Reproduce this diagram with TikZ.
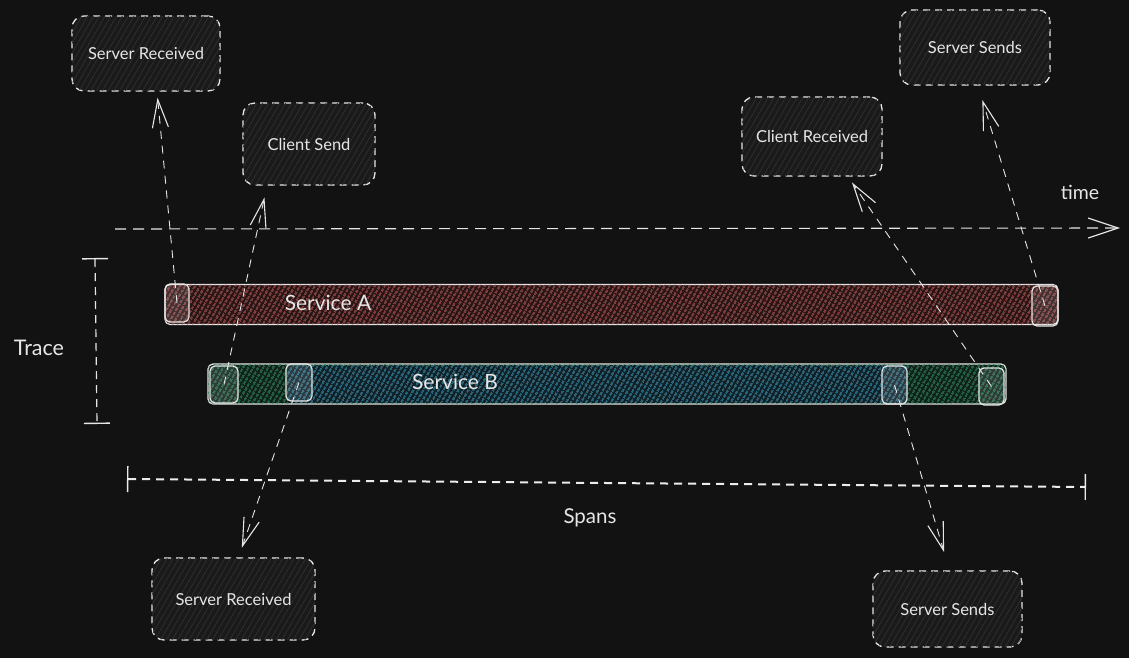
\documentclass[tikz,border=0pt]{standalone}
\usepackage{fontspec}
\setmainfont{Lato}
\usetikzlibrary{arrows.meta,patterns.meta,calc}
\definecolor{bg}{HTML}{121212}
\definecolor{ink}{HTML}{E6E6E6}
\definecolor{boxfill}{HTML}{1A1A1A}
\definecolor{boxhatch}{HTML}{2E2E2E}
\definecolor{redfill}{HTML}{2A1414}
\definecolor{redhatch}{HTML}{B34A4A}
\definecolor{bluefill}{HTML}{0E2128}
\definecolor{bluehatch}{HTML}{2A8CAE}
\definecolor{greenfill}{HTML}{0D2219}
\definecolor{greenhatch}{HTML}{1F8454}
\tikzset{
  lblbox/.style={draw=ink, line width=1.3pt, dash pattern=on 7pt off 5pt, rounded corners=12pt,
    fill=boxfill, postaction={pattern={Lines[angle=60,distance=5pt,line width=0.8pt]}, pattern color=boxhatch},
    text=ink, font=\fontsize{16.5}{18}\selectfont, inner sep=0pt},
  barbox/.style={draw=ink, line width=1.2pt, rounded corners=5pt, inner sep=0pt},
  sqbox/.style={draw=ink, line width=1.2pt, rounded corners=5pt, inner sep=0pt,
    fill=white, fill opacity=0.12, draw opacity=1},
  barlbl/.style={text=ink, font=\fontsize{21}{23}\selectfont, inner sep=0pt},
  conn/.style={draw=ink, line width=0.9pt, dash pattern=on 8pt off 7pt,
    -{Straight Barb[length=28pt,width=16pt,line width=1.1pt]}},
  endbar/.style={draw=ink, line width=1.2pt, dash pattern=on 8pt off 6pt,
    {Bar[width=26pt,line width=1.4pt]}-{Bar[width=26pt,line width=1.4pt]}}
}
\begin{document}
\begin{tikzpicture}[x=1pt,y=-1pt]
\fill[bg] (0,0) rectangle (1129,658);
\useasboundingbox (0,0) rectangle (1129,658);

% label boxes
\node[lblbox, minimum width=148pt, minimum height=75pt] (srvTop) at (146,53.5) {Server Received};
\node[lblbox, minimum width=132pt, minimum height=82pt] (csend) at (309,144) {Client Send};
\node[lblbox, minimum width=140pt, minimum height=79pt] (crecv) at (812,136.5) {Client Received};
\node[lblbox, minimum width=150pt, minimum height=75pt] (ssTop) at (975,47.5) {Server Sends};
\node[lblbox, minimum width=163pt, minimum height=82pt] (srvBot) at (233.5,599) {Server Received};
\node[lblbox, minimum width=149pt, minimum height=76pt] (ssBot) at (947.5,609) {Server Sends};

% time axis
\coordinate (t0) at (115,229);
\coordinate (t1) at (1120,228);
\draw[ink, line width=1.1pt, dash pattern=on 11pt off 7pt,
  -{Straight Barb[length=30pt,width=20pt,line width=1.2pt]}] (t0) -- (t1);
\node[text=ink, font=\fontsize{19.5}{21}\selectfont] (timelbl) at (1080,192) {time};

% Service A bar
\node[barbox, minimum width=893pt, minimum height=40pt, fill=redfill,
  postaction={pattern={Lines[angle=60,distance=4pt,line width=1.1pt]}, pattern color=redhatch}] (svcA) at (611.5,304.5) {};
\node[barlbl] (svcAlbl) at (328,303) {Service A};
\node[sqbox, minimum width=24pt, minimum height=38pt] (sqA1) at (177,303) {};
\node[sqbox, minimum width=26pt, minimum height=40pt] (sqA2) at (1045,306) {};

% Service B bar
\node[barbox, minimum width=798pt, minimum height=40pt, fill=greenfill,
  postaction={pattern={Lines[angle=60,distance=4pt,line width=1.1pt]}, pattern color=greenhatch}] (svcB) at (607,384) {};
\fill[bluefill] (287,365.5) rectangle (907,402.5);
\path[pattern={Lines[angle=60,distance=4pt,line width=1.1pt]}, pattern color=bluehatch] (287,365.5) rectangle (907,402.5);
\node[barlbl] (svcBlbl) at (455,382) {Service B};
\node[sqbox, minimum width=28pt, minimum height=37pt] (sqB1) at (224,384.5) {};
\node[sqbox, minimum width=26pt, minimum height=37pt] (sqB2) at (299,382.5) {};
\node[sqbox, minimum width=25pt, minimum height=38pt] (sqB3) at (894.5,385) {};
\node[sqbox, minimum width=25pt, minimum height=37pt] (sqB4) at (991.5,386.5) {};

% Trace
\coordinate (tr0) at (95,258);
\coordinate (tr1) at (97,424);
\draw[endbar] (tr0) -- (tr1);
\node[text=ink, font=\fontsize{21.5}{23}\selectfont] (tracelbl) at (39,348) {Trace};

% Spans
\coordinate (sp0) at (127,479);
\coordinate (sp1) at (1086,487);
\draw[endbar, draw=ink!75, line width=2pt] (sp0) -- (sp1);
\node[text=ink, font=\fontsize{20.5}{22}\selectfont] (spanslbl) at (590,518) {Spans};

% connectors
\draw[conn, shorten >=6pt] (sqA1.center) -- ([xshift=11pt]srvTop.south);
\draw[conn, shorten >=12pt] (sqB1.center) -- ([xshift=-42pt]csend.south);
\draw[conn, shorten >=10pt] (sqB2.center) -- ([xshift=5pt]srvBot.north);
\draw[conn, shorten >=7pt] (sqB4.center) -- ([xshift=36pt]crecv.south);
\draw[conn, shorten >=15pt] (sqA2.center) -- ([xshift=3pt]ssTop.south);
\draw[conn, shorten >=19pt] (sqB3.center) -- ([xshift=2pt]ssBot.north);
\end{tikzpicture}
\end{document}
